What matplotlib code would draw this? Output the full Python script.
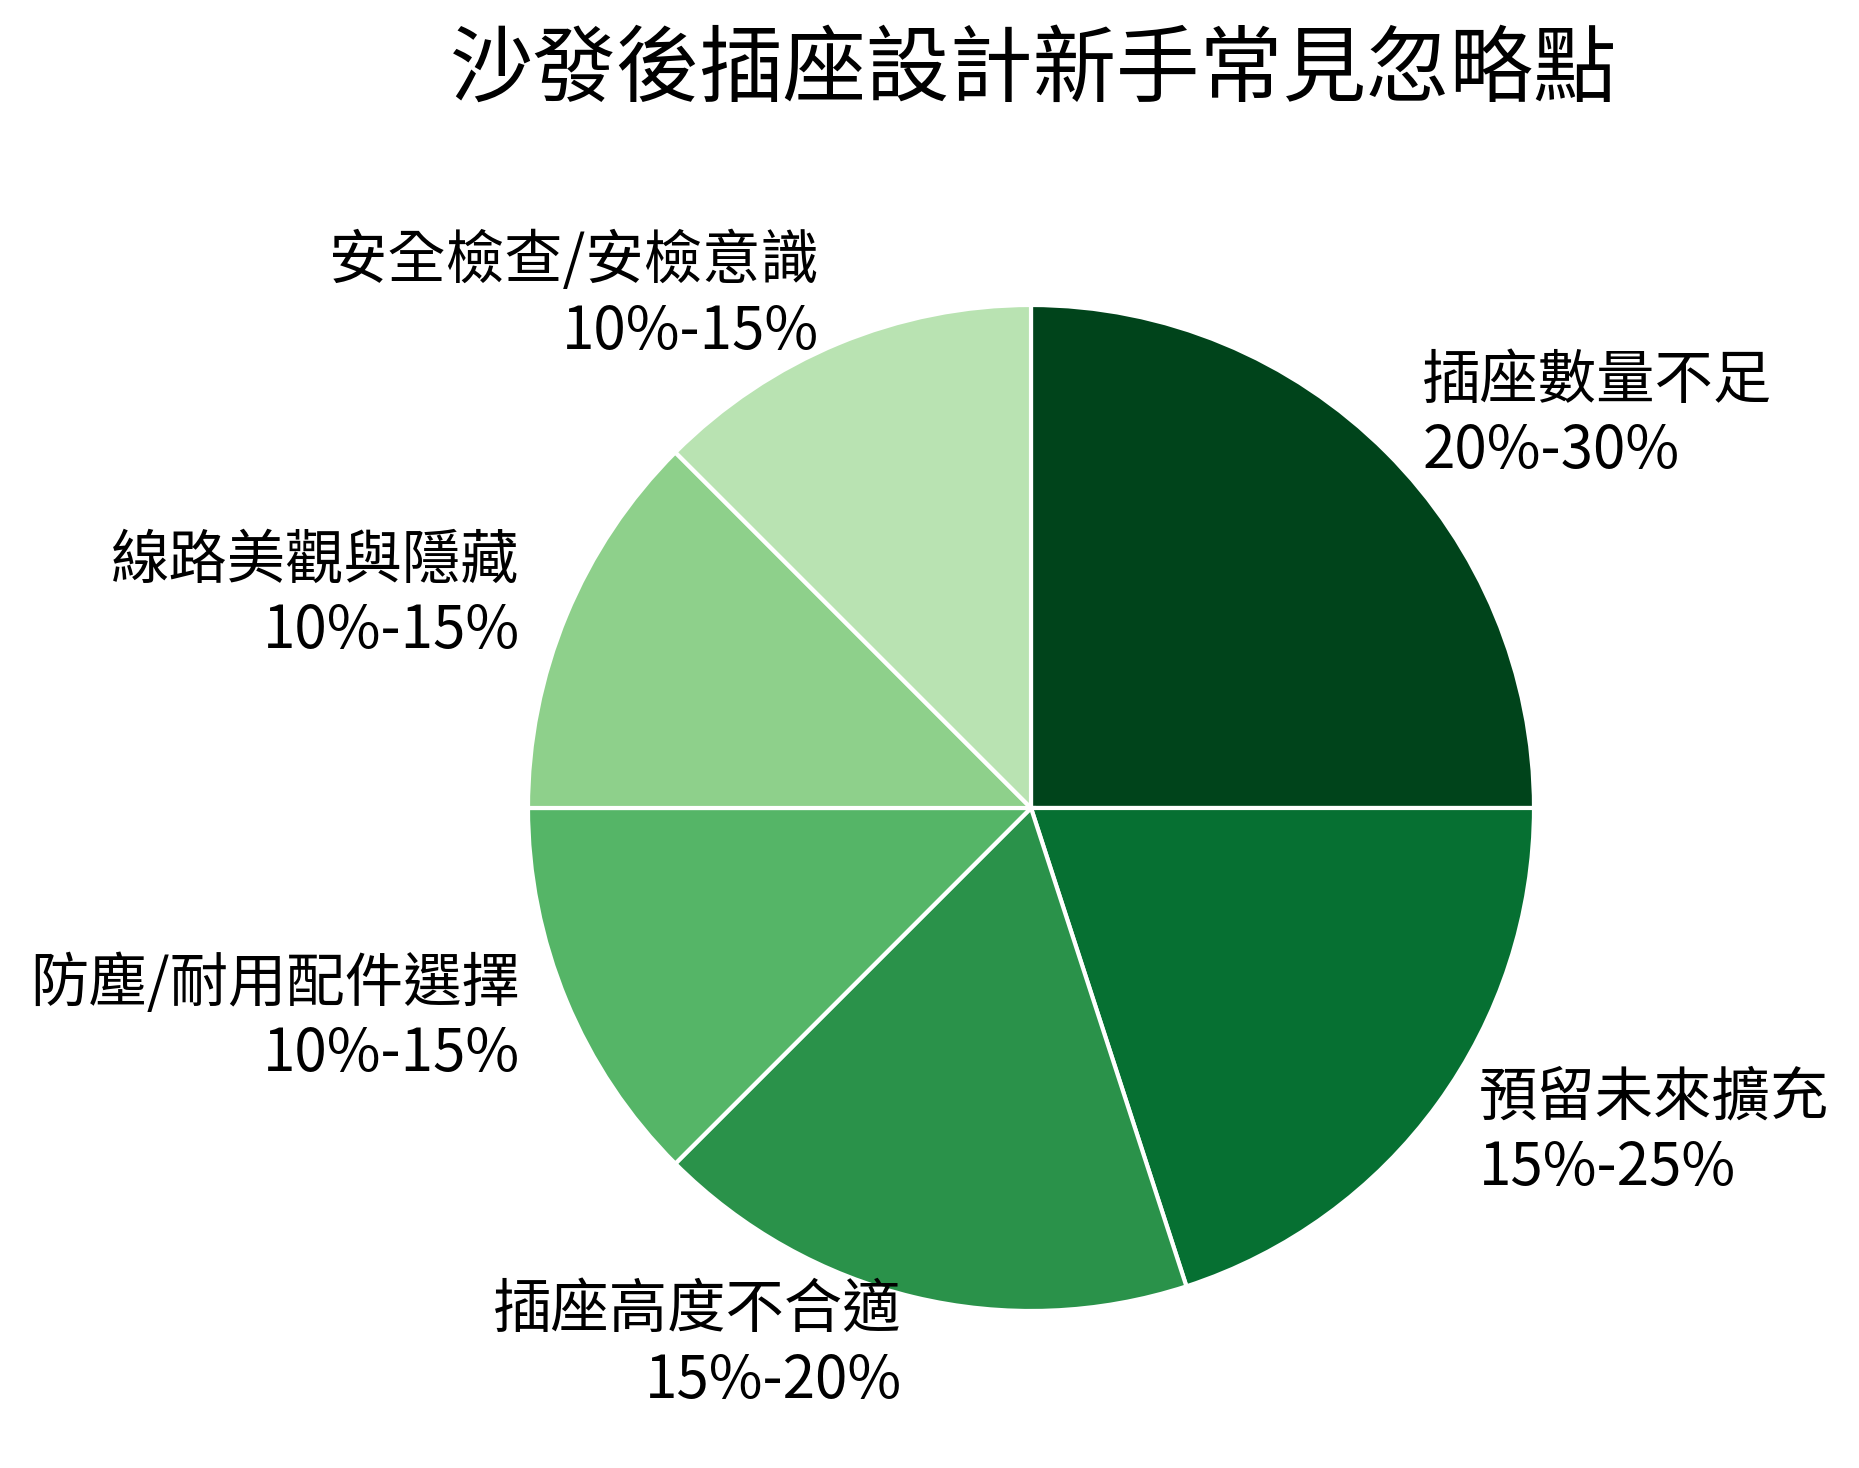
import numpy as np
import matplotlib
matplotlib.use('Agg')
import matplotlib.pyplot as plt

plt.rcParams['font.family'] = ['Noto Sans CJK TC', 'DejaVu Sans']

title = '沙發後插座設計新手常見忽略點'
categories = ['插座數量不足', '預留未來擴充', '插座高度不合適',
              '防塵/耐用配件選擇', '線路美觀與隱藏', '安全檢查/安檢意識']
ranges = ['20%-30%', '15%-25%', '15%-20%', '10%-15%', '10%-15%', '10%-15%']
shares = [25, 20, 17.5, 12.5, 12.5, 12.5]
colors = ['#00441b', '#067032', '#2a924a', '#55b567', '#8ed08b', '#b9e3b2']

W, H = 1859, 1468
fig = plt.figure(figsize=(W / 100, H / 100), dpi=100)

# pie centre in px, radius ~503 px; pie limits are +-1.25
cx, cy, r = 1031, 808, 503
side = r * 2.5
ax = fig.add_axes([(cx - side / 2) / W, (H - cy - side / 2) / H, side / W, side / H])

labels = [c + '\n' + rg for c, rg in zip(categories, ranges)]
ax.pie(shares, labels=labels, colors=colors, startangle=90, counterclock=False,
       labeldistance=1.1,
       wedgeprops=dict(edgecolor='white', linewidth=3),
       textprops=dict(fontsize=42, color='black'))

fig.text(1034 / W, 1 - 70 / H, title, ha='center', va='center', fontsize=60)

fig.savefig('out.png', dpi=100, facecolor='white')
